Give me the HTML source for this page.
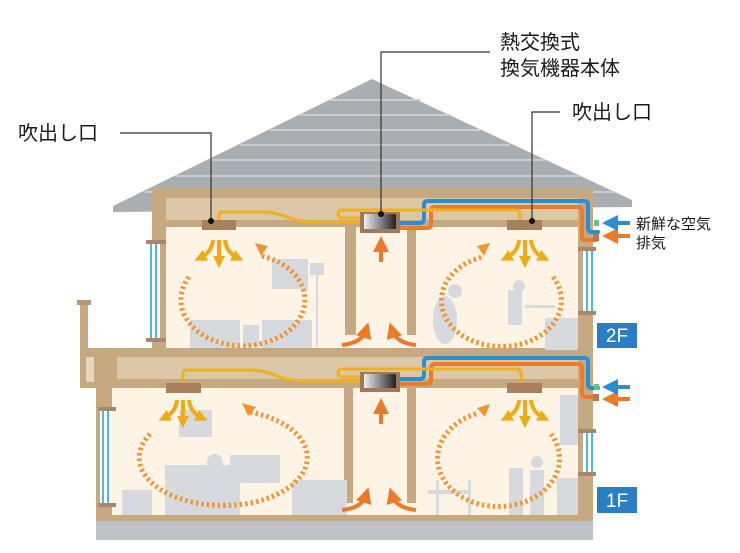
<!DOCTYPE html>
<html><head><meta charset="utf-8"><style>
html,body{margin:0;padding:0;background:#fff;width:740px;height:553px;overflow:hidden}
svg{display:block}
text{font-family:"Liberation Sans","Noto Sans CJK JP",sans-serif;fill:#1a1a1a}
</style></head><body>
<svg width="740" height="553" viewBox="0 0 740 553">
<defs>
<linearGradient id="ug" x1="0" x2="1"><stop offset="0" stop-color="#eee"/><stop offset="0.5" stop-color="#888"/><stop offset="1" stop-color="#222"/></linearGradient>
<marker id="oh" markerWidth="4" markerHeight="4" refX="2" refY="2" orient="auto" markerUnits="strokeWidth"><path d="M0,0L4,2L0,4z" fill="#ec7a28"/></marker>
<marker id="yh" markerWidth="3" markerHeight="3" refX="1.5" refY="1.5" orient="auto" markerUnits="strokeWidth"><path d="M0,0L3,1.5L0,3z" fill="#f0aa14"/></marker>
<marker id="bh" markerWidth="4" markerHeight="4" refX="2" refY="2" orient="auto" markerUnits="strokeWidth"><path d="M0,0L4,2L0,4z" fill="#2a8fd0"/></marker>
</defs>
<polygon points="372,79 632,200 632,207 113,212 113,206" fill="#a9aeb3"/>
<g stroke="#c9cdd1" stroke-width="2">
<line x1="330" y1="100" x2="420" y2="100"/><line x1="300" y1="115" x2="450" y2="115"/>
<line x1="270" y1="130" x2="480" y2="130"/><line x1="240" y1="145" x2="510" y2="145"/>
<line x1="210" y1="160" x2="545" y2="160"/><line x1="175" y1="176" x2="580" y2="176"/>
<line x1="145" y1="192" x2="615" y2="192"/>
</g>
<rect x="152" y="188" width="441" height="164" fill="#c6a981"/>
<rect x="166" y="198" width="412" height="22" fill="#dcc7a6"/>
<rect x="166" y="227" width="412" height="123" fill="#fdf4e6"/>
<rect x="148" y="243" width="12" height="97" fill="#fff"/>
<rect x="150" y="243" width="2" height="97" fill="#4cb8e6"/><rect x="155" y="243" width="2" height="97" fill="#4cb8e6"/>
<rect x="146" y="240" width="20" height="4" fill="#a8876a"/><rect x="146" y="338" width="20" height="4" fill="#a8876a"/>
<rect x="583" y="250" width="12" height="62" fill="#fff"/>
<rect x="586" y="250" width="2" height="62" fill="#4cb8e6"/><rect x="591" y="250" width="2" height="62" fill="#4cb8e6"/>
<rect x="578" y="247" width="18" height="4" fill="#a8876a"/><rect x="578" y="311" width="18" height="4" fill="#a8876a"/>
<rect x="345" y="227" width="11" height="108" fill="#c6a981"/>
<rect x="407" y="227" width="9" height="108" fill="#c6a981"/>
<rect x="80" y="348" width="513" height="40" fill="#c6a981"/>
<rect x="117" y="357" width="461" height="22" fill="#dcc7a6"/>
<rect x="86" y="357" width="8" height="25" fill="#e6d6bc"/>
<rect x="80" y="302" width="8" height="48" fill="#c6a981"/><rect x="77" y="300" width="14" height="5" fill="#b8996f"/>
<rect x="96" y="383" width="497" height="140" fill="#c6a981"/>
<rect x="112" y="388" width="466" height="127" fill="#fdf4e6"/>
<rect x="96" y="520" width="497" height="20" fill="#c0c3c6"/>
<rect x="96" y="515" width="497" height="6" fill="#c6a981"/>
<rect x="100" y="410" width="12" height="95" fill="#fff"/>
<rect x="102" y="410" width="2" height="95" fill="#4cb8e6"/><rect x="107" y="410" width="2" height="95" fill="#4cb8e6"/>
<rect x="98" y="407" width="18" height="4" fill="#a8876a"/><rect x="98" y="503" width="18" height="4" fill="#a8876a"/>
<rect x="583" y="432" width="12" height="42" fill="#fff"/>
<rect x="586" y="432" width="2" height="42" fill="#4cb8e6"/><rect x="591" y="432" width="2" height="42" fill="#4cb8e6"/>
<rect x="578" y="429" width="18" height="4" fill="#a8876a"/><rect x="578" y="472" width="18" height="4" fill="#a8876a"/>
<rect x="344" y="388" width="9" height="115" fill="#c6a981"/>
<rect x="407" y="388" width="9" height="115" fill="#c6a981"/>
<g fill="#d6d9dd">
<rect x="272" y="259" width="36" height="30"/><rect x="310" y="263" width="14" height="12"/><rect x="316" y="275" width="2" height="72"/>
<rect x="190" y="320" width="50" height="28"/><rect x="262" y="320" width="50" height="28"/><rect x="243" y="325" width="16" height="22"/>
<ellipse cx="445" cy="320" rx="12" ry="24"/><circle cx="455" cy="291" r="7"/>
<rect x="508" y="290" width="14" height="35"/><circle cx="519" cy="286" r="6"/><rect x="525" y="305" width="30" height="3"/>
<rect x="545" y="318" width="33" height="32"/>
<rect x="179" y="410" width="33" height="27"/>
<rect x="165" y="465" width="75" height="50"/><rect x="230" y="455" width="50" height="28"/>
<rect x="292" y="480" width="55" height="35"/><rect x="122" y="490" width="30" height="25"/>
<rect x="206" y="470" width="25" height="45"/><circle cx="215" cy="462" r="8"/>
<rect x="428" y="490" width="40" height="4"/><rect x="436" y="480" width="3" height="35"/><rect x="468" y="480" width="3" height="35"/>
<rect x="509" y="468" width="14" height="47"/><circle cx="537" cy="462" r="6"/><rect x="530" y="470" width="14" height="45"/>
<rect x="560" y="395" width="18" height="50"/><rect x="557" y="478" width="21" height="37"/>
</g>
<g fill="none" stroke-linejoin="round" stroke-linecap="round">
<path d="M400,223 H420 Q424,223 424,218 V205 Q424,201 428,201 H584 Q588,201 588,205 V228 Q588,232 592,232 H598" stroke="#2a8fd0" stroke-width="4"/>
<path d="M400,228 H427 Q431,228 431,224 V211 Q431,207 435,207 H578 Q582,207 582,211 V236 Q582,240 586,240 H596" stroke="#ec7a28" stroke-width="4"/>
<path d="M219,229 V216 Q219,212 223,212 H262 Q275,212 290,218 Q300,222 315,222 H390" stroke="#f0b020" stroke-width="3"/>
<path d="M362,218 H343 Q338,218 338,214 Q338,210 343,210 H515 Q520,210 520,215 V229" stroke="#f0b020" stroke-width="3"/>
<path d="M400,379 H420 Q424,379 424,374 V362 Q424,358 428,358 H584 Q588,358 588,362 V384 Q588,388 592,388 H598" stroke="#2a8fd0" stroke-width="4"/>
<path d="M400,384 H427 Q431,384 431,380 V368 Q431,364 435,364 H578 Q582,364 582,368 V393 Q582,397 586,397 H596" stroke="#ec7a28" stroke-width="4"/>
<path d="M183,383 V374 Q183,370 187,370 H250 Q262,370 277,376 Q290,381 305,381 H362" stroke="#f0b020" stroke-width="3"/>
<path d="M362,377 H343 Q338,377 338,373 Q338,369 343,369 H516 Q521,369 521,374 V383" stroke="#f0b020" stroke-width="3"/>
</g>
<rect x="594" y="220" width="5" height="6" fill="#6cc08a"/><rect x="593" y="234" width="6" height="7" fill="#b07a50"/>
<rect x="594" y="384" width="5" height="6" fill="#6cc08a"/><rect x="593" y="394" width="6" height="7" fill="#b07a50"/>
<rect x="360" y="212" width="40" height="21" fill="#a0785a"/><rect x="364" y="214" width="32" height="15" fill="url(#ug)"/>
<rect x="360" y="372" width="40" height="20" fill="#a0785a"/><rect x="364" y="374" width="32" height="14" fill="url(#ug)"/>
<g fill="#a8805e">
<rect x="202" y="220" width="34" height="10"/><rect x="507" y="220" width="35" height="10"/>
<rect x="166" y="383" width="35" height="10"/><rect x="507" y="383" width="35" height="10"/>
</g>
<g stroke="#fff" stroke-width="1.5" stroke-dasharray="1.5 2">
<line x1="205" y1="232" x2="234" y2="232"/><line x1="510" y1="232" x2="540" y2="232"/>
<line x1="169" y1="395" x2="199" y2="395"/><line x1="510" y1="395" x2="540" y2="395"/>
<line x1="364" y1="236" x2="396" y2="236"/><line x1="364" y1="395" x2="396" y2="395"/>
</g>
<g fill="none" stroke="#f0aa14" stroke-width="4" marker-end="url(#yh)">
<path d="M219,240 V262"/><path d="M213,240 Q212,252 200,258"/><path d="M225,240 Q226,252 238,258"/>
<path d="M525,240 V262"/><path d="M519,240 Q518,252 506,258"/><path d="M531,240 Q532,252 544,258"/>
<path d="M183,400 V422"/><path d="M177,400 Q176,412 164,418"/><path d="M189,400 Q190,412 202,418"/>
<path d="M525,400 V422"/><path d="M519,400 Q518,412 506,418"/><path d="M531,400 Q532,412 544,418"/>
</g>
<g fill="none" stroke="#ec7a28" stroke-width="4" marker-end="url(#oh)">
<path d="M381,262 V244"/><path d="M381,424 V406"/>
<path d="M342,345 Q362,343 366,330"/><path d="M416,345 Q396,343 392,330"/>
<path d="M342,510 Q362,508 366,495"/><path d="M416,510 Q396,508 392,495"/>
<path d="M630,236 H610"/><path d="M630,399 H610"/>
</g>
<g fill="none" stroke="#2a8fd0" stroke-width="4" marker-end="url(#bh)">
<path d="M630,223 H610"/><path d="M630,387 H610"/>
</g>
<g fill="none" stroke="#f0962e" stroke-width="5" stroke-dasharray="2.5 3">
<path d="M189,277 A62,46 0 1 0 262,256"/>
<path d="M553,277 A60,46 0 1 1 482,257"/>
<path d="M150,434 A84,48 0 1 0 250,412"/>
<path d="M551,434 A61,48 0 1 1 479,413"/>
</g>
<g fill="#f0962e">
<polygon points="255,243 268,246 261,256"/><polygon points="490,243 477,246 484,256"/>
<polygon points="242,403 256,407 248,416"/><polygon points="490,404 477,408 485,417"/>
</g>
<g stroke="#333" stroke-width="1.2" fill="none">
<path d="M120,133 H211 V221"/><path d="M490,52 H381 V214"/><path d="M560,112 H532 V221"/>
</g>
<g fill="#111"><circle cx="211" cy="221" r="3"/><circle cx="381" cy="214" r="3"/><circle cx="532" cy="221" r="3"/></g>
<text x="18" y="140" font-size="20">吹出し口</text>
<text x="500" y="49" font-size="20">熱交換式</text>
<text x="500" y="75" font-size="20">換気機器本体</text>
<text x="572" y="119" font-size="20">吹出し口</text>
<text x="636" y="229" font-size="15">新鮮な空気</text>
<text x="636" y="248" font-size="15">排気</text>
<rect x="597" y="323" width="40" height="25" fill="#2a7fc4"/>
<text x="617" y="342" font-size="19" text-anchor="middle" style="fill:#fff">2F</text>
<rect x="597" y="487" width="40" height="26" fill="#2a7fc4"/>
<text x="617" y="507" font-size="19" text-anchor="middle" style="fill:#fff">1F</text>
</svg>
</body></html>
